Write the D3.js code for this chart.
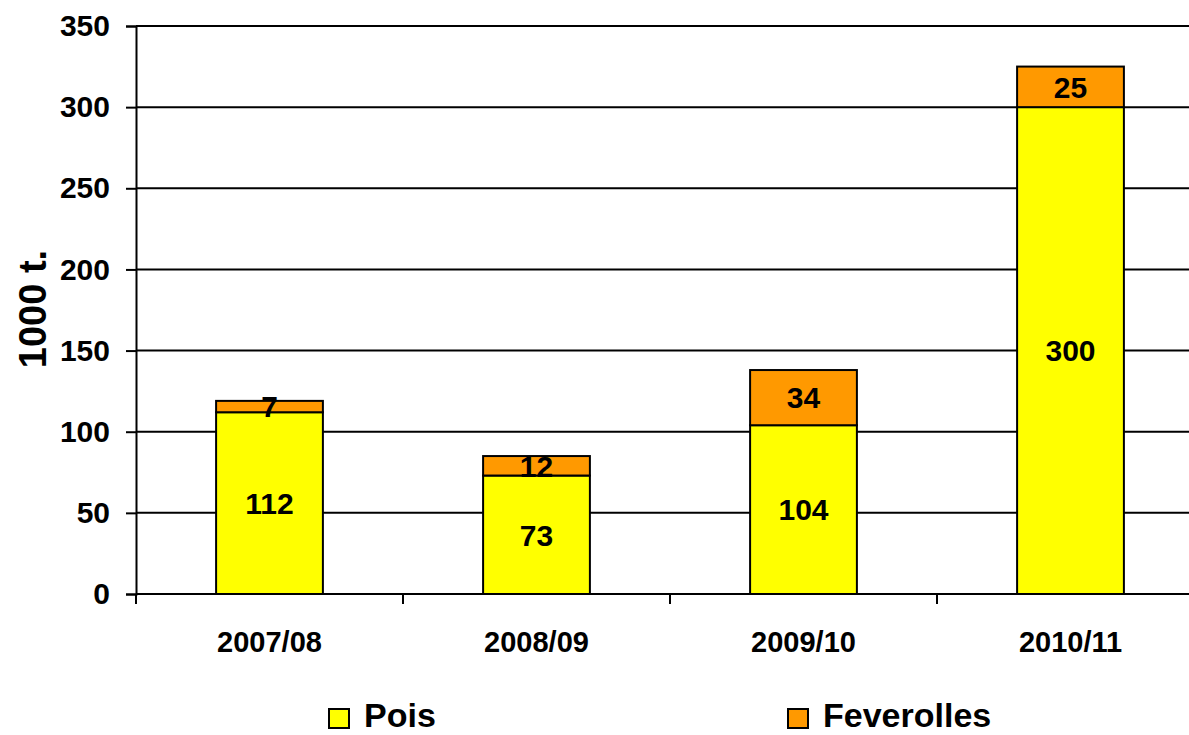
<!DOCTYPE html>
<html>
<head>
<meta charset="utf-8">
<script src="https://cdn.jsdelivr.net/npm/d3@7"></script>
<style>
  body { margin: 0; background: #fff; }
  svg { display: block; font-family: "Liberation Sans", Arial, sans-serif; font-weight: bold; }
</style>
</head>
<body>
<div id="chart"></div>
<script>
// data
var seasons = ["2007/08", "2008/09", "2009/10", "2010/11"];
var pois = [112, 73, 104, 300];
var feverolles = [7, 12, 34, 25];
var seriesNames = ["Pois", "Feverolles"];
var seriesColors = ["#ffff00", "#ff9900"];
var yTicks = [0, 50, 100, 150, 200, 250, 300, 350];

var W = 1189, H = 735;
var margin = {top: 26, right: -15, bottom: 141, left: 136};

var svg = d3.select("#chart").append("svg")
    .attr("width", W)
    .attr("height", H);

var width = W - margin.left - margin.right,
    height = H - margin.top - margin.bottom;

var g = svg.append("g")
    .attr("transform", "translate(" + margin.left + "," + margin.top + ")");

var x = d3.scaleBand()
    .domain(seasons)
    .range([0, width])
    .paddingInner(0.6)
    .paddingOuter(0.3);

var y = d3.scaleLinear()
    .domain([0, 350])
    .range([height, 0]);

var rows = seasons.map(function(s, i) {
    return {season: s, Pois: pois[i], Feverolles: feverolles[i]};
});
var stacked = d3.stack().keys(seriesNames)(rows);

// gridlines
g.append("g")
    .selectAll("line")
    .data(yTicks)
    .enter().append("line")
    .attr("x1", 0)
    .attr("x2", width)
    .attr("y1", function(d) { return y(d); })
    .attr("y2", function(d) { return y(d); })
    .attr("stroke", "#000")
    .attr("stroke-width", 2);

// y axis
var yAxis = g.append("g")
    .call(d3.axisLeft(y).tickValues(yTicks).tickSize(10).tickPadding(16));
yAxis.select(".domain").attr("stroke-width", 2);
yAxis.selectAll(".tick line").attr("stroke-width", 2);
yAxis.selectAll("text")
    .attr("font-size", 30)
    .attr("font-family", "Liberation Sans, Arial, sans-serif")
    .attr("font-weight", "bold")
    .attr("fill", "#000");

// x axis: ticks sit between categories
var step = x.step();
var xAxis = g.append("g")
    .attr("transform", "translate(0," + height + ")");
xAxis.append("line")
    .attr("x1", 0).attr("x2", width)
    .attr("stroke", "#000").attr("stroke-width", 2);
xAxis.selectAll(".sep")
    .data(d3.range(seasons.length + 1))
    .enter().append("line")
    .attr("class", "sep")
    .attr("x1", function(i) { return i * step; })
    .attr("x2", function(i) { return i * step; })
    .attr("y1", 0).attr("y2", 10)
    .attr("stroke", "#000").attr("stroke-width", 2);
xAxis.selectAll(".lab")
    .data(seasons)
    .enter().append("text")
    .attr("class", "lab")
    .attr("x", function(d) { return x(d) + x.bandwidth() / 2; })
    .attr("y", 58)
    .attr("text-anchor", "middle")
    .attr("font-size", 29)
    .text(function(d) { return d; });

// bars
var layers = g.append("g")
    .selectAll("g")
    .data(stacked)
    .enter().append("g")
    .attr("fill", function(d, i) { return seriesColors[i]; });

layers.selectAll("rect")
    .data(function(d) { return d; })
    .enter().append("rect")
    .attr("x", function(d) { return x(d.data.season); })
    .attr("y", function(d) { return y(d[1]); })
    .attr("width", x.bandwidth())
    .attr("height", function(d) { return y(d[0]) - y(d[1]); })
    .attr("stroke", "#000")
    .attr("stroke-width", 2);

// value labels
layers.selectAll("text")
    .data(function(d) { return d.map(function(p) { p.key = d.key; return p; }); })
    .enter().append("text")
    .attr("x", function(d) { return x(d.data.season) + x.bandwidth() / 2; })
    .attr("y", function(d) { return (y(d[0]) + y(d[1])) / 2; })
    .attr("dy", "0.36em")
    .attr("text-anchor", "middle")
    .attr("font-size", 30)
    .attr("fill", "#000")
    .text(function(d) { return d.data[d.key]; });

// y label
svg.append("text")
    .attr("transform", "translate(46,309) rotate(-90)")
    .attr("text-anchor", "middle")
    .attr("font-size", 38)
    .text("1000 t.");

// legend
var legendX = [329, 788];
var legend = svg.append("g")
    .selectAll("g")
    .data(seriesNames)
    .enter().append("g")
    .attr("transform", function(d, i) { return "translate(" + legendX[i] + ",709)"; });
legend.append("rect")
    .attr("width", 20)
    .attr("height", 19)
    .attr("fill", function(d, i) { return seriesColors[i]; })
    .attr("stroke", "#000")
    .attr("stroke-width", 2);
legend.append("text")
    .attr("x", 35)
    .attr("y", 18)
    .attr("font-size", 34)
    .text(function(d) { return d; });
</script>
</body>
</html>
